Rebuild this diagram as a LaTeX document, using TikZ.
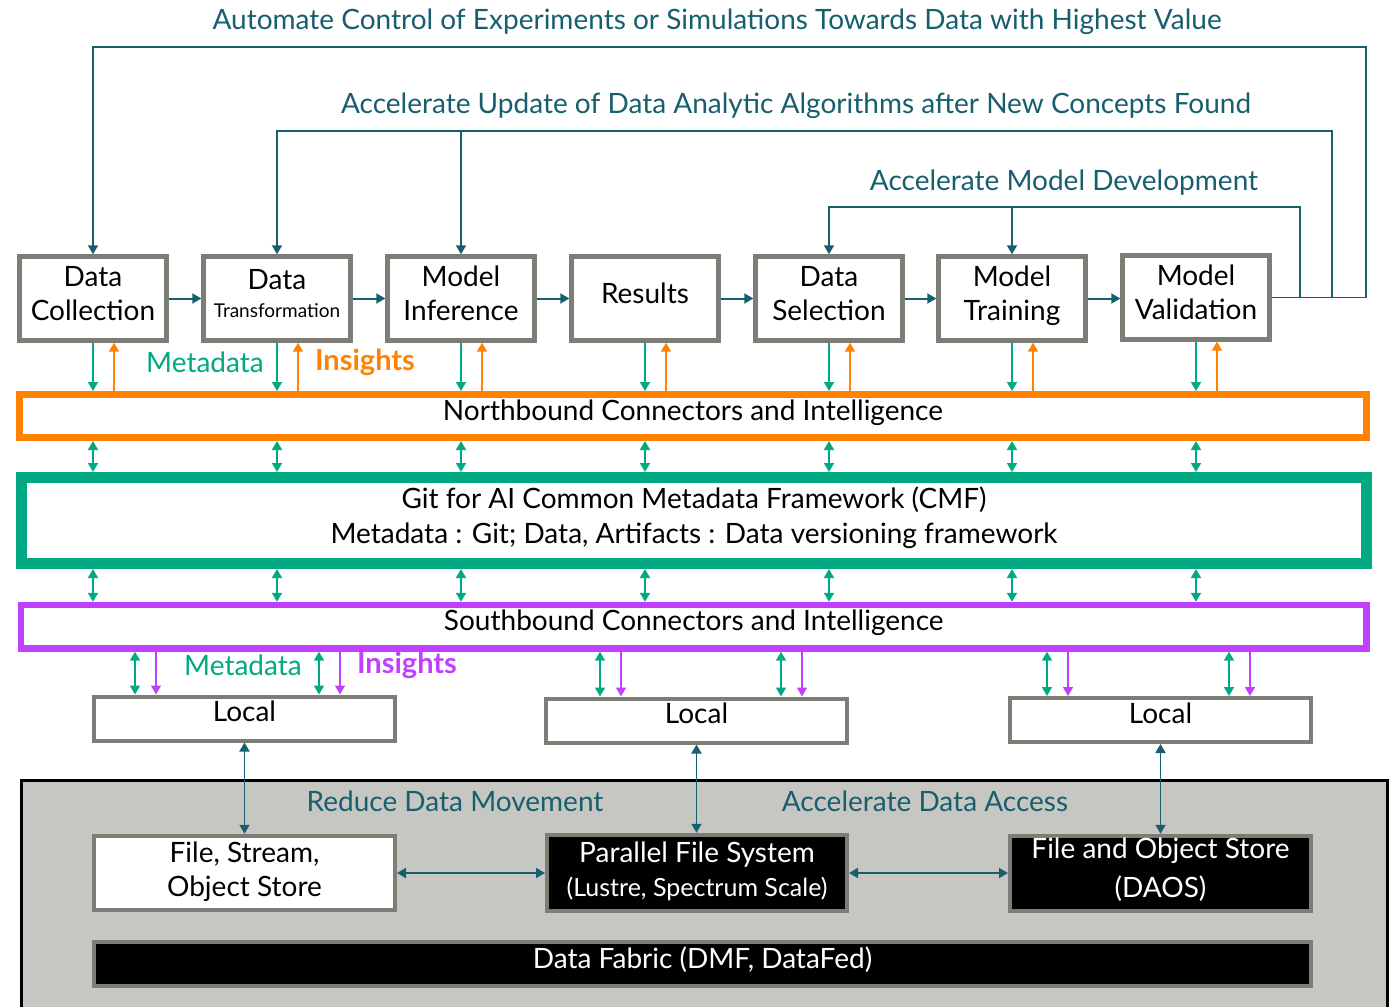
\documentclass[tikz,border=0pt]{standalone}
\usepackage{fontspec}
\setmainfont{Lato}
\usetikzlibrary{arrows.meta,calc}
\definecolor{tealc}{HTML}{175E6E}
\definecolor{hgreen}{HTML}{01A982}
\definecolor{horange}{HTML}{FF8300}
\definecolor{hpurple}{HTML}{C140FF}
\definecolor{bgray}{HTML}{7D7D75}
\definecolor{panelc}{HTML}{C6C7C2}
\begin{document}
\begin{tikzpicture}[x=0.5pt,y=-0.5pt,
  every node/.style={font=\fontsize{14}{17}\selectfont},
  tip/.style={-{Triangle[length=4.5pt,width=5pt]}},
  dtip/.style={{Triangle[length=4.5pt,width=5pt]}-{Triangle[length=4.5pt,width=5pt]}},
  tarrow/.style={tip,draw=tealc,line width=1pt},
  tdarrow/.style={dtip,draw=tealc,line width=0.9pt},
  fb/.style={tip,draw=tealc,line width=0.9pt},
  garr/.style={tip,draw=hgreen,line width=0.8pt},
  gdarr/.style={dtip,draw=hgreen,line width=0.8pt},
  oarr/.style={tip,draw=horange,line width=0.8pt},
  parr/.style={tip,draw=hpurple,line width=0.8pt},
  stage/.style={draw=bgray,line width=2.2pt,fill=white,minimum width=73.5pt,minimum height=42pt,align=center,inner sep=0pt,text depth=5pt},
  band/.style={fill=white,inner sep=0pt,text height=9pt,text depth=5pt},
  localbox/.style={draw=bgray,line width=2pt,fill=white,minimum width=150.5pt,minimum height=22pt,inner sep=0pt,text height=9pt,text depth=6pt},
  store/.style={draw=bgray,line width=2pt,align=center,inner sep=0pt,text depth=4pt},
  tlabel/.style={text=tealc},
  ins/.style={font=\fontsize{14.5}{17}\selectfont\bfseries},
]
\useasboundingbox (0,0) rectangle (1393,1007);

% feedback labels
\node[tlabel] (lab1) at (717,22) {Automate Control of Experiments or Simulations Towards Data with Highest Value};
\node[tlabel] (lab2) at (796,106) {Accelerate Update of Data Analytic Algorithms after New Concepts Found};
\node[tlabel] (lab3) at (1064,183) {Accelerate Model Development};

% stages
\node[stage] (dc) at (93,298.5) {Data\\Collection};
\node[stage] (dt) at (277,298.5) {Data\\[-3pt]{\fontsize{9.5}{11}\selectfont Transformation}};
\node[stage] (mi) at (461,298.5) {Model\\Inference};
\node[stage] (re) at (645,298.5) {Results};
\node[stage] (ds) at (829,298.5) {Data\\Selection};
\node[stage] (mt) at (1012,298.5) {Model\\Training};
\node[stage] (mv) at (1196,297.5) {Model\\Validation};

\foreach \a/\b in {dc/dt,dt/mi,mi/re,re/ds,ds/mt,mt/mv}
  \draw[tarrow] (\a.east) -- (\a.east -| \b.west);

% feedback loops
\coordinate (c1) at (1366,47);
\coordinate (c2) at (1332,131);
\coordinate (c3) at (1300,207);
\coordinate (j2) at (461,131);
\coordinate (j3) at (1012,207);
\draw[fb] (mv.east) -| (c1) -| (dc.north);
\draw[fb] (mv.east) -| (c2) -| (dt.north);
\draw[fb] (j2) -- (mi.north);
\draw[fb] (mv.east) -| (c3) -| (ds.north);
\draw[fb] (j3) -- (mt.north);

% bands
\node[band,draw=horange,line width=3.5pt,minimum width=673.5pt,minimum height=21.5pt] (nb) at (693,416) {Northbound Connectors and Intelligence};
\node[draw=hgreen,line width=5.5pt,fill=white,minimum width=672.5pt,minimum height=43pt,align=center,inner sep=0pt,text depth=5.5pt,font=\fontsize{14}{17.5}\selectfont] (cmf) at (694,520.5) {Git for AI Common Metadata Framework (CMF)\\Metadata : Git; Data, Artifacts : Data versioning framework};
\node[band,draw=hpurple,line width=3.2pt,minimum width=672.75pt,minimum height=21.75pt] (sb) at (693.75,626.75) {Southbound Connectors and Intelligence};

\foreach \n in {dc,dt,mi,re,ds,mt,mv}{
  \draw[garr] (\n.south) -- (\n.south |- nb.north);
  \draw[oarr] ($(\n.south |- nb.north)+(21,0)$) -- ($(\n.south)+(21,0)$);
  \draw[gdarr] (\n.south |- nb.south) -- (\n.south |- cmf.north);
  \draw[gdarr] (\n.south |- cmf.south) -- (\n.south |- sb.north);
}

\node[text=hgreen] (md1) at (205,362) {Metadata};
\node[text=horange,ins] (in1) at (365,362) {Insights};

% local boxes
\node[localbox] (lo1) at (244.5,718.5) {Local};
\node[localbox] (lo2) at (696.5,720.5) {Local};
\node[localbox] (lo3) at (1160.5,720) {Local};

\foreach \x/\l in {135/lo1,319/lo1,600/lo2,781/lo2,1047/lo3,1229/lo3}{
  \coordinate (t) at (\x,0);
  \coordinate (u) at (\x+21,0);
  \draw[gdarr] (sb.south -| t) -- (\l.north -| t);
  \draw[parr] (sb.south -| u) -- (\l.north -| u);
}
\node[text=hgreen] (md2) at (243,665) {Metadata};
\node[text=hpurple,ins] (in2) at (407,665) {Insights};

% storage panel
\fill[panelc] (21.5,780.5) rectangle (1387.5,1007);
\draw[line width=1.5pt] (21.5,1010) -- (21.5,780.5) -- (1387.5,780.5) -- (1387.5,1010);
\node[tlabel] (rdm) at (455,801) {Reduce Data Movement};
\node[tlabel] (ada) at (925,801) {Accelerate Data Access};

\node[store,fill=white,minimum width=150.5pt,minimum height=37.25pt] (fs) at (244.5,873) {File, Stream,\\Object Store};
\node[store,fill=black,text=white,minimum width=150pt,minimum height=38.25pt] (pf) at (697,873) {Parallel File System\\{\fontsize{12.5}{14}\selectfont (Lustre, Spectrum Scale)}};
\node[store,fill=black,text=white,minimum width=150.5pt,minimum height=37.75pt,font=\fontsize{14}{19.5}\selectfont,text depth=6pt] (da) at (1160.5,873.5) {File and Object Store\\(DAOS)};
\node[store,fill=black,text=white,minimum width=608.75pt,minimum height=22.25pt,text height=9pt,text depth=5pt] (df) at (702.5,964) {Data Fabric (DMF, DataFed)};

\draw[tdarrow] (lo1.south) -- (fs.north);
\draw[tdarrow] (lo2.south) -- (lo2.south |- pf.north);
\draw[tdarrow] (lo3.south) -- (da.north);
\draw[tdarrow] (fs.east) -- (fs.east -| pf.west);
\draw[tdarrow] (pf.east) -- (pf.east -| da.west);
\end{tikzpicture}
\end{document}
